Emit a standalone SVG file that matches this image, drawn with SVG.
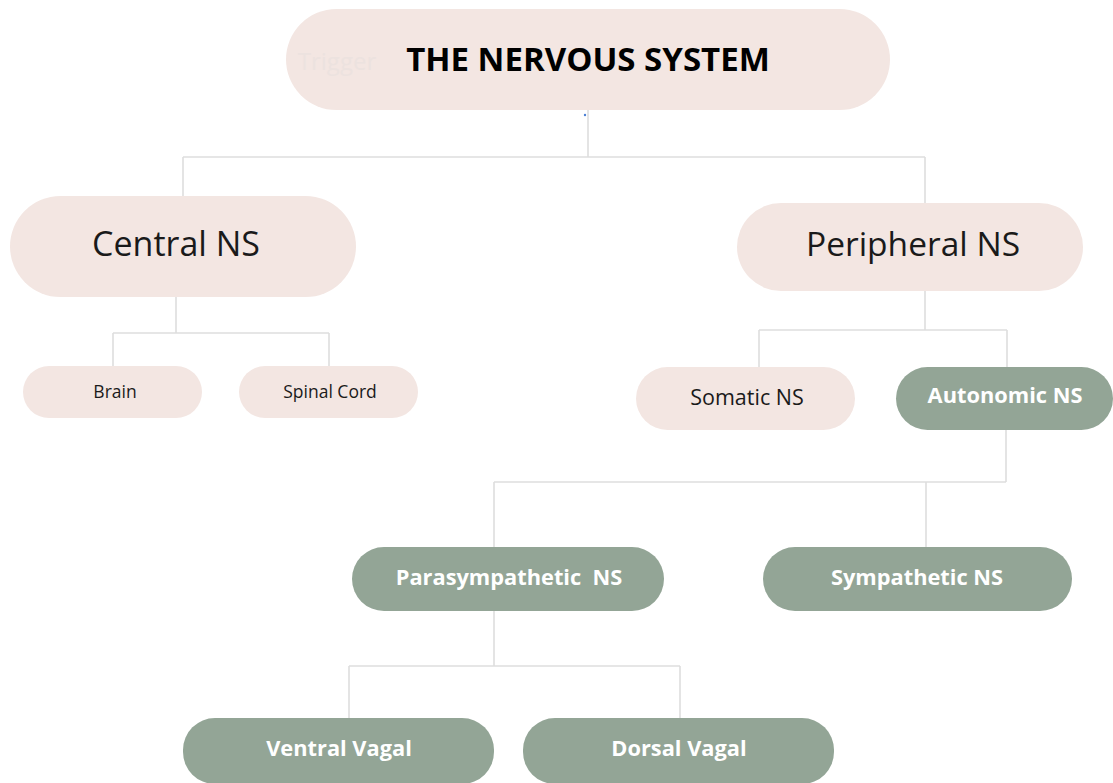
<svg xmlns="http://www.w3.org/2000/svg" width="1113" height="783" viewBox="0 0 1113 783">
  <style>
    .pink { fill: #f3e6e2; }
    .green { fill: #93a596; }
    .conn { fill: none; stroke: #dedede; stroke-width: 1.6; }
    .dark { font-family: "Open Sans", "Liberation Sans", sans-serif; fill: #1a1a1a; text-anchor: middle; }
    .light { font-family: "Open Sans", "Liberation Sans", sans-serif; fill: #ffffff; font-weight: bold; text-anchor: middle; font-size: 21.8px; }
  </style>
  <rect width="1113" height="783" fill="#ffffff"/>
  <g id="connectors">
    <path class="conn" d="M588 110 V157 M183 157 H925 M183 157 V197 M925 157 V203"/>
    <path class="conn" d="M176 297 V333 M113 333 H329 M113 333 V366 M329 333 V366"/>
    <path class="conn" d="M925 291 V330 M759 330 H1007 M759 330 V367 M1007 330 V367"/>
    <path class="conn" d="M1006 430 V482 M494 482 H1006 M494 482 V548 M926 482 V548"/>
    <path class="conn" d="M494 611 V666 M349 666 H680 M349 666 V718 M680 666 V718"/>
  </g>
  <g id="root">
    <rect class="pink" x="286" y="9" width="604" height="101" rx="50.5"/>
    <text x="337" y="70" font-family="Open Sans, Liberation Sans, sans-serif" font-size="24" fill="#ece2df" text-anchor="middle">Trigger</text>
    <text x="588" y="71" font-family="Open Sans, Liberation Sans, sans-serif" font-size="33" font-weight="bold" fill="#000000" text-anchor="middle">THE NERVOUS SYSTEM</text>
    <circle cx="585" cy="115" r="1.2" fill="#4a7fd4"/>
  </g>
  <g id="central">
    <rect class="pink" x="10" y="196" width="346" height="101" rx="50.5"/>
    <text class="dark" x="176" y="256" font-size="34">Central NS</text>
  </g>
  <g id="peripheral">
    <rect class="pink" x="737" y="203" width="346" height="88" rx="44"/>
    <text class="dark" x="913" y="256" font-size="33.5">Peripheral NS</text>
  </g>
  <g id="brain">
    <rect class="pink" x="23" y="366" width="179" height="52" rx="26"/>
    <text class="dark" x="115" y="398" font-size="17.5">Brain</text>
  </g>
  <g id="spinal">
    <rect class="pink" x="239" y="366" width="179" height="52" rx="26"/>
    <text class="dark" x="330" y="398" font-size="17.5">Spinal Cord</text>
  </g>
  <g id="somatic">
    <rect class="pink" x="636" y="367" width="219" height="63" rx="31.5"/>
    <text class="dark" x="747" y="405" font-size="21.5">Somatic NS</text>
  </g>
  <g id="autonomic">
    <rect class="green" x="896" y="367" width="217" height="63" rx="31.5"/>
    <text class="light" x="1005" y="403">Autonomic NS</text>
  </g>
  <g id="parasympathetic">
    <rect class="green" x="352" y="547" width="312" height="64" rx="32"/>
    <text class="light" x="509" y="585" xml:space="preserve">Parasympathetic  NS</text>
  </g>
  <g id="sympathetic">
    <rect class="green" x="763" y="547" width="309" height="64" rx="32"/>
    <text class="light" x="917" y="585">Sympathetic NS</text>
  </g>
  <g id="ventral">
    <rect class="green" x="183" y="718" width="311" height="66" rx="32"/>
    <text class="light" x="339" y="756">Ventral Vagal</text>
  </g>
  <g id="dorsal">
    <rect class="green" x="523" y="718" width="311" height="66" rx="32"/>
    <text class="light" x="679" y="756">Dorsal Vagal</text>
  </g>
</svg>
